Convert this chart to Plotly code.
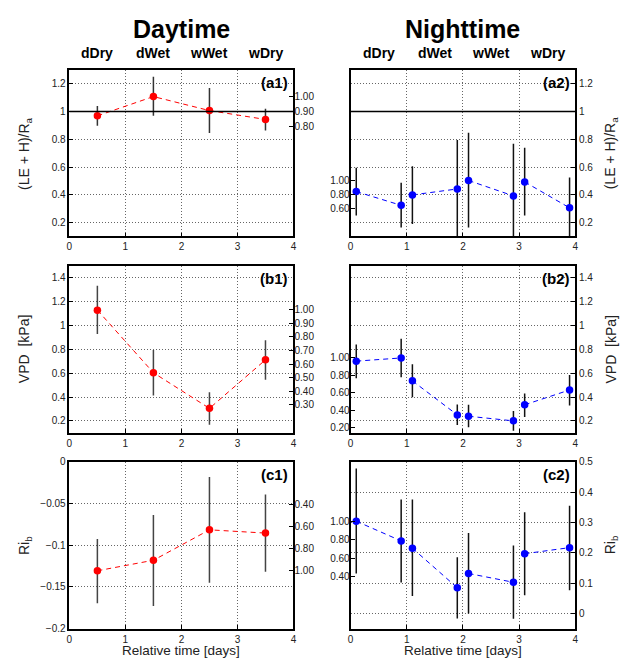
import plotly.graph_objects as go

# ---------------- data ----------------
X_DAY = [0.5, 1.5, 2.5, 3.5]
X_NIGHT = [0.1, 0.9, 1.1, 1.9, 2.1, 2.9, 3.1, 3.9]
CATEGORIES = ["dDry", "dWet", "wWet", "wDry"]
CAT_POS = [0.5, 1.5, 2.5, 3.5]
X_TICKS = [0, 1, 2, 3, 4]

# (a) (LE + H)/Ra
A_DAY = [0.969, 1.108, 1.007, 0.943]
A_DAY_LO = [0.898, 0.969, 0.845, 0.863]
A_DAY_HI = [1.04, 1.25, 1.17, 1.02]
A_NIGHT = [0.423, 0.324, 0.399, 0.442, 0.503, 0.392, 0.493, 0.306]
A_NIGHT_LO = [0.25, 0.165, 0.19, 0.0, 0.165, 0.0, 0.25, 0.0]
A_NIGHT_HI = [0.594, 0.486, 0.606, 0.795, 0.847, 0.767, 0.739, 0.524]
A_REF = 1.0

# (b) VPD [kPa]
B_DAY = [1.129, 0.604, 0.305, 0.712]
B_DAY_LO = [0.929, 0.412, 0.167, 0.544]
B_DAY_HI = [1.333, 0.794, 0.44, 0.876]
B_NIGHT = [0.701, 0.728, 0.536, 0.25, 0.239, 0.2, 0.335, 0.459]
B_NIGHT_LO = [0.558, 0.566, 0.398, 0.165, 0.146, 0.118, 0.233, 0.33]
B_NIGHT_HI = [0.841, 0.888, 0.674, 0.338, 0.335, 0.283, 0.429, 0.585]

# (c) Ri_b
C_DAY = [-0.1306, -0.118, -0.0816, -0.0855]
C_DAY_LO = [-0.1694, -0.1726, -0.145, -0.1318]
C_DAY_HI = [-0.0926, -0.064, -0.0185, -0.0393]
C_NIGHT = [0.304, 0.239, 0.215, 0.085, 0.132, 0.103, 0.197, 0.217]
C_NIGHT_LO = [0.132, 0.102, 0.058, -0.016, 0.0, -0.017, 0.06, 0.077]
C_NIGHT_HI = [0.477, 0.375, 0.375, 0.185, 0.265, 0.224, 0.333, 0.355]

# secondary (normalised) tick labels
A1_SEC_TICKS = [0.80, 0.90, 1.00]
A2_SEC_TICKS = [0.60, 0.80, 1.00]
B1_SEC_TICKS = [0.30, 0.40, 0.50, 0.60, 0.70, 0.80, 0.90, 1.00]
B2_SEC_TICKS = [0.20, 0.40, 0.60, 0.80, 1.00]
C1_SEC_TICKS = [0.40, 0.60, 0.80, 1.00]
C2_SEC_TICKS = [0.40, 0.60, 0.80, 1.00]

# ---------------- layout geometry ----------------
W, H = 628, 663
FONT = "Liberation Sans, Arial, Helvetica, sans-serif"
COLX = [(67, 293.3), (351, 577.7)]
ROWY = [(65, 234.3), (264.3, 434), (463.3, 633.3)]


def px_x(a, b):
    return [a / W, b / W]


def px_y(top, bottom):
    return [1 - bottom / H, 1 - top / H]


def ax_id(letter, i):
    return letter if i == 1 else f"{letter}{i}"


def ax_key(letter, i):
    return f"{letter}axis" if i == 1 else f"{letter}axis{i}"


panels = [
    dict(lab="(a1)", row=0, col=0, x=X_DAY, y=A_DAY, lo=A_DAY_LO, hi=A_DAY_HI, color="#ff0000",
         rng=[0.1, 1.3], tick0=0.2, dtick=0.2, sec=A1_SEC_TICKS, secrng=[0.075, 1.178],
         ref=A_REF, pairs=False, barcol="#333333"),
    dict(lab="(a2)", row=0, col=1, x=X_NIGHT, y=A_NIGHT, lo=A_NIGHT_LO, hi=A_NIGHT_HI, color="#0000ff",
         rng=[0.1, 1.3], tick0=0.2, dtick=0.2, sec=A2_SEC_TICKS, secrng=[0.205, 2.565],
         ref=A_REF, pairs=True, barcol="#111111"),
    dict(lab="(b1)", row=1, col=0, x=X_DAY, y=B_DAY, lo=B_DAY_LO, hi=B_DAY_HI, color="#ff0000",
         rng=[0.1, 1.5], tick0=0.2, dtick=0.2, sec=B1_SEC_TICKS, secrng=[0.092, 1.325],
         ref=None, pairs=False, barcol="#444444"),
    dict(lab="(b2)", row=1, col=1, x=X_NIGHT, y=B_NIGHT, lo=B_NIGHT_LO, hi=B_NIGHT_HI, color="#0000ff",
         rng=[0.1, 1.5], tick0=0.2, dtick=0.2, sec=B2_SEC_TICKS, secrng=[0.143, 2.048],
         ref=None, pairs=True, barcol="#111111"),
    dict(lab="(c1)", row=2, col=0, x=X_DAY, y=C_DAY, lo=C_DAY_LO, hi=C_DAY_HI, color="#ff0000",
         rng=[-0.2, 0.0], tick0=0.0, dtick=0.05, sec=C1_SEC_TICKS, secrng=[1.528, 0.006],
         ref=None, pairs=False, barcol="#444444"),
    dict(lab="(c2)", row=2, col=1, x=X_NIGHT, y=C_NIGHT, lo=C_NIGHT_LO, hi=C_NIGHT_HI, color="#0000ff",
         rng=[-0.05, 0.5], tick0=0.0, dtick=0.1, sec=C2_SEC_TICKS, secrng=[-0.175, 1.657],
         ref=None, pairs=True, barcol="#111111"),
]

YTITLES = ["(LE + H)/R<sub>a</sub>", "VPD  [kPa]", "Ri<sub>b</sub>"]

fig = go.Figure()
layout = dict(
    width=W, height=H, margin=dict(l=0, r=0, t=0, b=0),
    paper_bgcolor="white", plot_bgcolor="white", showlegend=False,
    font=dict(family=FONT, size=10, color="#222222"),
    annotations=[], shapes=[],
)

for i, p in enumerate(panels, start=1):
    xa, ya, ys = ax_id("x", i), ax_id("y", i), ax_id("y", i + 6)
    xdom = px_x(*COLX[p["col"]])
    ydom = px_y(*ROWY[p["row"]])
    left = p["col"] == 0

    layout[ax_key("x", i)] = dict(
        domain=xdom, anchor=ya, range=[0, 4], tickvals=X_TICKS,
        ticks="inside", ticklen=4, tickcolor="black",
        showline=True, mirror=True, linecolor="black", linewidth=1.5,
        showgrid=True, gridcolor="#666666", griddash="1px,2px", gridwidth=1,
        zeroline=False, tickfont=dict(size=10, color="#222222"),
    )
    layout[ax_key("y", i)] = dict(
        domain=ydom, anchor=xa, range=p["rng"], tickmode="linear",
        tick0=p["tick0"], dtick=p["dtick"], side="left" if left else "right",
        ticks="inside", ticklen=4, tickcolor="black",
        showline=True, mirror=True, linecolor="black", linewidth=1.5,
        showgrid=True, gridcolor="#666666", griddash="1px,2px", gridwidth=1,
        zeroline=False, tickfont=dict(size=10, color="#222222"),
    )
    layout[ax_key("y", i + 6)] = dict(
        overlaying=ya, anchor=xa, side="right" if left else "left",
        range=p["secrng"], tickvals=p["sec"],
        ticktext=[f"{v:.2f}" for v in p["sec"]],
        ticks="inside", ticklen=4, tickcolor="black",
        showline=False, showgrid=False, zeroline=False,
        tickfont=dict(size=10, color="#222222"),
    )

    # dummy trace so the secondary axis is drawn
    fig.add_trace(go.Scatter(x=[None], y=[None], xaxis=xa, yaxis=ys, hoverinfo="skip"))

    # reference line
    if p["ref"] is not None:
        layout["shapes"].append(dict(
            type="line", xref=f"{xa} domain", yref=ya, x0=0, x1=1,
            y0=p["ref"], y1=p["ref"], line=dict(color="black", width=1.5)))

    # dashed connecting line (night: connect within each category pair only)
    if p["pairs"]:
        lx, ly = [], []
        for k in range(0, len(p["x"]), 2):
            lx += [p["x"][k], p["x"][k + 1], None]
            ly += [p["y"][k], p["y"][k + 1], None]
    else:
        lx, ly = list(p["x"]), list(p["y"])
    fig.add_trace(go.Scatter(
        x=lx, y=ly, mode="lines", xaxis=xa, yaxis=ya, connectgaps=False,
        line=dict(color=p["color"], width=1, dash="5px,4px"), hoverinfo="skip"))

    # points with error bars
    fig.add_trace(go.Scatter(
        x=p["x"], y=p["y"], mode="markers", xaxis=xa, yaxis=ya,
        marker=dict(color=p["color"], size=7.5),
        error_y=dict(type="data", symmetric=False,
                     array=[h - v for h, v in zip(p["hi"], p["y"])],
                     arrayminus=[v - l for v, l in zip(p["y"], p["lo"])],
                     width=0, thickness=1.5, color=p["barcol"]),
    ))

    # panel label
    layout["annotations"].append(dict(
        text=f"<b>{p['lab']}</b>", xref=f"{xa} domain", yref=f"{ya} domain",
        x=0.985, y=0.985, xanchor="right", yanchor="top", showarrow=False,
        font=dict(size=15, color="black", family=FONT)))

    # y-axis titles
    ymid = 1 - (ROWY[p["row"]][0] + ROWY[p["row"]][1]) / 2 / H
    layout["annotations"].append(dict(
        text=YTITLES[p["row"]], xref="paper", yref="paper",
        x=(22 if left else 614) / W, y=ymid, xanchor="center", yanchor="middle",
        textangle=-90, showarrow=False, font=dict(size=14, color="#222222", family=FONT)))

    # x-axis title on bottom row
    if p["row"] == 2:
        layout["annotations"].append(dict(
            text="Relative time [days]", xref=f"{xa} domain", yref="paper",
            x=0.5, y=1 - 655 / H, xanchor="center", yanchor="middle",
            showarrow=False, font=dict(size=13.5, color="#222222", family=FONT)))

    # category labels above top row
    if p["row"] == 0:
        for c, cx in zip(CATEGORIES, CAT_POS):
            layout["annotations"].append(dict(
                text=f"<b>{c}</b>", xref=xa, yref="paper", x=cx, y=1 - 48 / H,
                xanchor="center", yanchor="middle", showarrow=False,
                font=dict(size=14, color="black", family=FONT)))
        layout["annotations"].append(dict(
            text="<b>Daytime</b>" if left else "<b>Nighttime</b>",
            xref=f"{xa} domain", yref="paper", x=0.5, y=1 - 23 / H,
            xanchor="center", yanchor="middle", showarrow=False,
            font=dict(size=25, color="black", family=FONT)))

fig.update_layout(**layout)
fig.write_html("out.html")
